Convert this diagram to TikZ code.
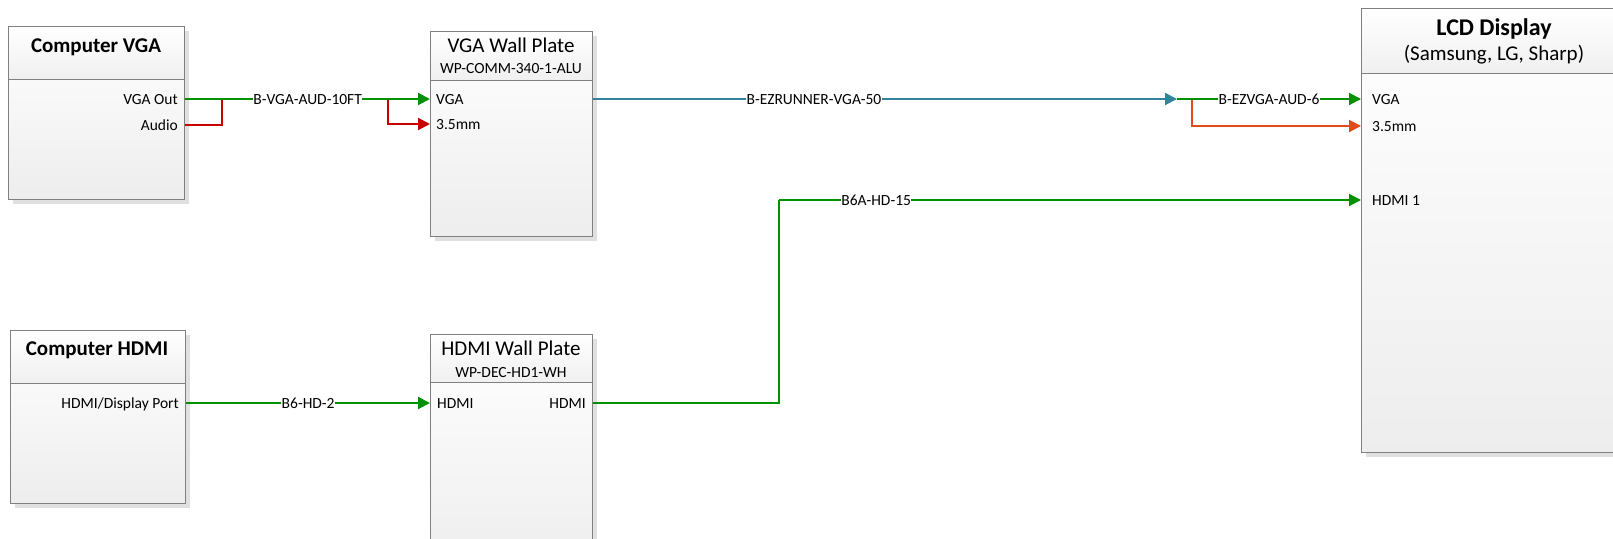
\documentclass[tikz,border=0pt]{standalone}
\usepackage{fontspec}
\setmainfont{Carlito}
\usetikzlibrary{arrows.meta,shadows,calc}
\definecolor{cgreen}{RGB}{0,145,0}
\definecolor{cred}{RGB}{200,0,0}
\definecolor{cblue}{RGB}{49,132,155}
\definecolor{corange}{RGB}{226,74,26}
\definecolor{cborder}{RGB}{128,128,128}
\newcommand\fPort{\fontsize{15.5}{18}\selectfont}
\newcommand\fTtl{\fontsize{21}{24}\selectfont}
\newcommand\fBig{\fontsize{24}{28}\selectfont}
\begin{document}
\begin{tikzpicture}[x=1pt,y=-1pt,
  devbody/.style={draw=cborder, line width=1.3pt, top color=white, bottom color=black!7,
    anchor=north west, inner sep=0pt,
    drop shadow={shadow xshift=4pt,shadow yshift=-4pt,fill=black!12,opacity=1}},
  devhead/.style={draw=cborder, line width=1.3pt, top color=white, bottom color=black!6,
    anchor=north west, inner sep=0pt},
  port/.style={inner sep=0pt, font=\fPort, text height=10pt, text depth=0pt},
  ttl/.style={inner sep=0pt, font=\fTtl, text height=13.5pt, text depth=0pt},
  sub/.style={inner sep=0pt, font=\fPort, text height=10pt, text depth=0pt},
  lbl/.style={fill=white, inner xsep=0.5pt, inner ysep=1pt, font=\fPort, text height=10pt, text depth=0pt},
  tip/.style={-{Triangle[length=12pt,width=12pt]}},
  gline/.style={draw=cgreen, line width=2pt},
  rline/.style={draw=cred, line width=2pt},
  bline/.style={draw=cblue, line width=2pt},
  oline/.style={draw=corange, line width=2pt},
]
\useasboundingbox (0,0) rectangle (1613,538);
\clip (0,0) rectangle (1613,538);

% ---- Computer VGA
\node[devbody, minimum width=176pt, minimum height=173pt] (cvga) at (8,26) {};
\node[devhead, minimum width=176pt, minimum height=53pt] (cvgah) at (8,26) {};
\node[ttl] (cvgat) at (96,46) {\bfseries Computer VGA};
\node[port, anchor=east] (cvgaout) at (178,99) {VGA Out};
\node[port, anchor=east] (cvgaaud) at (178,125) {Audio};

% ---- VGA Wall Plate
\node[devbody, minimum width=162pt, minimum height=205pt] (vwp) at (430,31) {};
\node[devhead, minimum width=162pt, minimum height=49pt] (vwph) at (430,31) {};
\node[ttl] (vwpt) at (511,46) {VGA Wall Plate};
\node[sub] (vwps) at (511,68) {WP-COMM-340-1-ALU};
\node[port, anchor=west] (vwpvga) at (436,99) {VGA};
\node[port, anchor=west] (vwpaud) at (436,124) {3.5mm};

% ---- Computer HDMI
\node[devbody, minimum width=175pt, minimum height=173pt] (chd) at (10,330) {};
\node[devhead, minimum width=175pt, minimum height=53pt] (chdh) at (10,330) {};
\node[ttl] (chdt) at (97,349) {\bfseries Computer HDMI};
\node[port, anchor=east] (chdout) at (179,403) {HDMI/Display Port};

% ---- HDMI Wall Plate
\node[devbody, minimum width=162pt, minimum height=240pt] (hwp) at (430,334) {};
\node[devhead, minimum width=162pt, minimum height=48pt] (hwph) at (430,334) {};
\node[ttl] (hwpt) at (511,349) {HDMI Wall Plate};
\node[sub] (hwps) at (511,372) {WP-DEC-HD1-WH};
\node[port, anchor=west] (hwpin) at (437,403) {HDMI};
\node[port, anchor=east] (hwpout) at (586,403) {HDMI};

% ---- LCD Display
\node[devbody, minimum width=266pt, minimum height=444pt] (lcd) at (1361,8) {};
\node[devhead, minimum width=266pt, minimum height=65pt] (lcdh) at (1361,8) {};
\node[inner sep=0pt, font=\fBig, text height=15.5pt, text depth=0pt] (lcdt) at (1494,28) {\bfseries LCD Display};
\node[ttl] (lcds) at (1494,54) {(Samsung, LG, Sharp)};
\node[port, anchor=west] (lcdvga) at (1372,99) {VGA};
\node[port, anchor=west] (lcdaud) at (1372,126) {3.5mm};
\node[port, anchor=west] (lcdhd) at (1372,200) {HDMI 1};

% ---- junctions
\coordinate (j1) at (222,99);
\coordinate (j2) at (388,99);
\coordinate (j3) at (1177,99);
\coordinate (j4) at (1192,99);
\coordinate (j5) at (779,200);

% ---- connectors
\draw[rline] (cvga.east |- cvgaaud) -| (j1);
\draw[rline, tip] (j2) |- (vwp.west |- vwpaud);
\draw[gline, tip] (cvga.east |- cvgaout) -- node[lbl] (l1) {B-VGA-AUD-10FT} (vwp.west |- vwpvga);

\draw[bline, tip] (vwp.east |- vwpvga) -- node[lbl, pos=0.378] (l2) {B-EZRUNNER-VGA-50} (j3);
\draw[oline, tip] (j4) |- (lcd.west |- lcdaud);
\draw[gline, tip] (j3) -- node[lbl] (l3) {B-EZVGA-AUD-6} (lcd.west |- lcdvga);

\draw[gline, tip] (chd.east |- chdout) -- node[lbl] (l4) {B6-HD-2} (hwp.west |- hwpin);
\draw[gline] (hwp.east |- hwpout) -| (j5);
\draw[gline, tip] (j5) -- node[lbl, pos=0.167] (l5) {B6A-HD-15} (lcd.west |- lcdhd);
\end{tikzpicture}
\end{document}
